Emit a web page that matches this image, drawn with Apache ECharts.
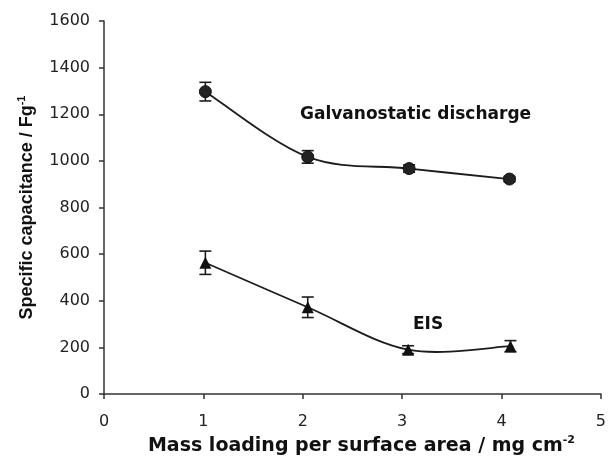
<!DOCTYPE html>
<html>
<head>
<meta charset="utf-8">
<script src="https://cdn.jsdelivr.net/npm/echarts@6/dist/echarts.min.js"></script>
<style>
html,body{margin:0;padding:0;background:#fff;}
#chart{width:609px;height:467px;}
</style>
</head>
<body>
<div id="chart"></div>
<script>
// Data
const xTicks = [0, 1, 2, 3, 4, 5];
const yTicks = [0, 200, 400, 600, 800, 1000, 1200, 1400, 1600];
const galvX = [1.02, 2.05, 3.07, 4.08];
const galvY = [1297, 1017, 967, 922];
const galvErr = [40, 27, 16, 11];
const eisX = [1.02, 2.05, 3.06, 4.09];
const eisY = [563, 372, 190, 205];
const eisErr = [50, 44, 17, 24];

const ink = '#1c1c1c';
const chart = echarts.init(document.getElementById('chart'), null, {renderer: 'canvas'});

function pairs(xs, ys) { return xs.map((x, i) => [x, ys[i]]); }
function errData(xs, ys, es) { return xs.map((x, i) => [x, ys[i], es[i]]); }

function errRender(params, api) {
  const x = api.value(0), y = api.value(1), e = api.value(2);
  const top = api.coord([x, y + e]);
  const bot = api.coord([x, y - e]);
  const hw = 6;
  const style = {stroke: ink, lineWidth: 1.6};
  return {
    type: 'group',
    children: [
      {type: 'line', shape: {x1: top[0], y1: top[1], x2: bot[0], y2: bot[1]}, style: style},
      {type: 'line', shape: {x1: top[0] - hw, y1: top[1], x2: top[0] + hw, y2: top[1]}, style: style},
      {type: 'line', shape: {x1: bot[0] - hw, y1: bot[1], x2: bot[0] + hw, y2: bot[1]}, style: style}
    ]
  };
}

// Smoothed (spreadsheet-style cardinal spline) segment from point i to i+1
function splineRenderer(xs, ys) {
  return function (params, api) {
    const i = params.dataIndex;
    if (i >= xs.length - 1) return null;
    const P = xs.map((x, k) => api.coord([x, ys[k]]));
    const p0 = P[Math.max(i - 1, 0)], p1 = P[i], p2 = P[i + 1], p3 = P[Math.min(i + 2, P.length - 1)];
    const t = 1 / 6;
    return {
      type: 'bezierCurve',
      shape: {
        x1: p1[0], y1: p1[1], x2: p2[0], y2: p2[1],
        cpx1: p1[0] + (p2[0] - p0[0]) * t, cpy1: p1[1] + (p2[1] - p0[1]) * t,
        cpx2: p2[0] - (p3[0] - p1[0]) * t, cpy2: p2[1] - (p3[1] - p1[1]) * t
      },
      style: {stroke: ink, lineWidth: 1.8, fill: null}
    };
  };
}

const wide = '"DejaVu Sans", sans-serif';
const narrow = '"Liberation Sans", Arial, sans-serif';

chart.setOption({
  animation: false,
  backgroundColor: '#fff',
  grid: {left: 104, right: 5, top: 21, bottom: 73, containLabel: false},
  xAxis: {
    type: 'value', min: xTicks[0], max: xTicks[xTicks.length - 1], interval: 1,
    axisLine: {show: true, onZero: false, lineStyle: {color: '#333', width: 1.5}},
    axisTick: {show: true, inside: false, length: 5, lineStyle: {color: '#333', width: 1.5}},
    splitLine: {show: false},
    axisLabel: {color: '#222', fontSize: 16, fontFamily: wide, margin: 20, formatter: v => String(v)},
    name: '{t|Mass loading per surface area / mg cm}{s|-2}',
    nameLocation: 'middle', nameGap: 38,
    nameTextStyle: {
      padding: [0, 0, 0, 18],
      rich: {
        t: {fontSize: 19, fontWeight: 'bold', color: '#111', fontFamily: wide},
        s: {fontSize: 11, fontWeight: 'bold', color: '#111', fontFamily: wide, verticalAlign: 'top', padding: [0, 0, 12, 0]}
      }
    }
  },
  yAxis: {
    type: 'value', min: yTicks[0], max: yTicks[yTicks.length - 1], interval: 200,
    axisLine: {show: true, lineStyle: {color: '#333', width: 1.5}},
    axisTick: {show: true, inside: false, length: 5, lineStyle: {color: '#333', width: 1.5}},
    splitLine: {show: false},
    axisLabel: {color: '#222', fontSize: 16, fontFamily: wide, margin: 14, formatter: v => String(v)},
    name: '{t|Specific capacitance / Fg}{s|-1}',
    nameLocation: 'middle', nameGap: 66,
    nameTextStyle: {
      rich: {
        t: {fontSize: 18, fontWeight: 'bold', color: '#111', fontFamily: narrow},
        s: {fontSize: 11, fontWeight: 'bold', color: '#111', fontFamily: narrow, verticalAlign: 'top', padding: [0, 0, 11, 0]}
      }
    }
  },
  graphic: [
    {type: 'text', left: 300, top: 106, style: {text: 'Galvanostatic discharge', font: 'bold 17px ' + wide, fill: '#111'}},
    {type: 'text', left: 413, top: 316, style: {text: 'EIS', font: 'bold 17px ' + wide, fill: '#111'}}
  ],
  series: [
    {type: 'custom', renderItem: splineRenderer(galvX, galvY), data: pairs(galvX, galvY), z: 2},
    {type: 'custom', renderItem: splineRenderer(eisX, eisY), data: pairs(eisX, eisY), z: 2},
    {type: 'custom', renderItem: errRender, data: errData(galvX, galvY, galvErr), z: 2},
    {type: 'custom', renderItem: errRender, data: errData(eisX, eisY, eisErr), z: 2},
    {type: 'scatter', data: pairs(galvX, galvY), symbol: 'circle', symbolSize: 12,
     itemStyle: {color: '#222', borderColor: '#111', borderWidth: 1, opacity: 1}, z: 3},
    {type: 'scatter', data: pairs(eisX, eisY), symbol: 'triangle', symbolSize: 12,
     itemStyle: {color: '#111', opacity: 1}, z: 3}
  ]
});
</script>
</body>
</html>
